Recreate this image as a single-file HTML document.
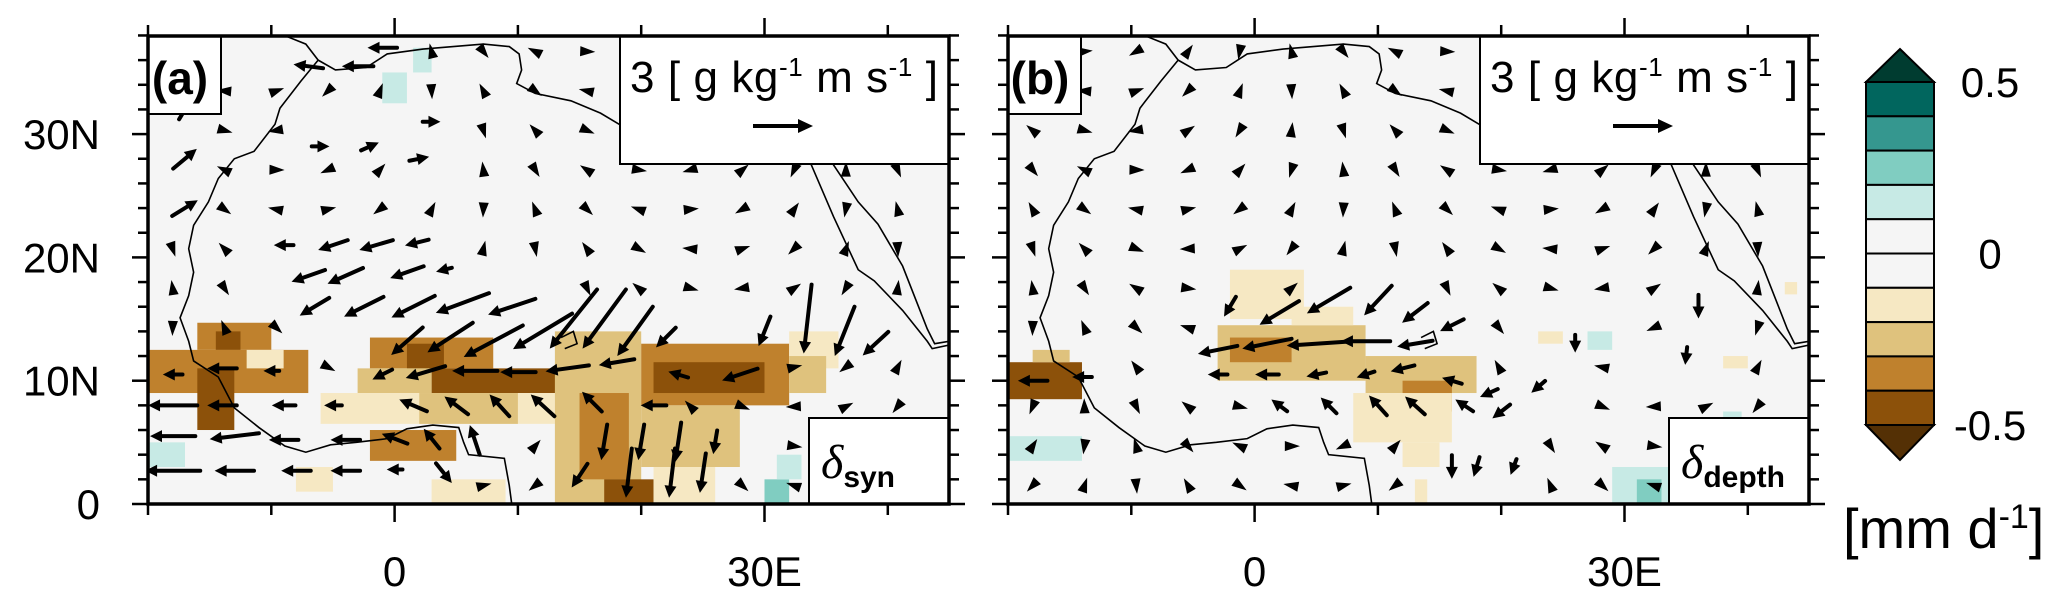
<!DOCTYPE html>
<html><head><meta charset="utf-8"><style>
html,body{margin:0;padding:0;background:#fff;}
svg{display:block;font-family:"Liberation Sans",sans-serif;}
</style></head><body>
<svg id="fig" width="2067" height="609" viewBox="0 0 2067 609" xmlns="http://www.w3.org/2000/svg">
<defs>
<clipPath id="clipA"><rect x="148" y="36" width="801" height="468"/></clipPath>
<clipPath id="clipB"><rect x="1008" y="36" width="801" height="468"/></clipPath>
</defs>
<g id="panelA"></g>
<g id="panelB"></g>
<g id="cbar"></g>
</svg>
<script>
// ---- data ----
const levelColors = {"-4":"#8c510a","-3":"#bf812d","-2":"#dfc27d","-1":"#f6e8c3","1":"#c7eae5","2":"#80cdc1","3":"#35978f","4":"#01665e"};
const cbarColors = ["#01665e","#35978f","#80cdc1","#c7eae5","#f5f5f5","#f5f5f5","#f6e8c3","#dfc27d","#bf812d","#8c510a"];
const cbarTickLabels = ["0.5","0","-0.5"];
const lonTicks = [-20,-10,0,10,20,30,40];
const lonLabels = {"0":"0","30":"30E"};
const latTicks = [0,10,20,30];
const latLabels = ["0","10N","20N","30N"];
// shading runs: [lat0, lat1, lon0, lon1, level]
const shadeA = [
[12.5,14.7,-16,-10,-3],[12.5,14,-14.5,-12.5,-4],[9,12.5,-20,-7,-3],[11,12.5,-12,-9,-1],
[6,11,-16,-13,-4],[11,13.5,-2,8,-3],[11,13,1,4,-4],[9,11,3,14,-4],[9,11,-3,3,-2],
[6.5,9,-6,13,-1],[6.5,9,2,10,-2],[3.5,6,-2,5,-3],[1,3,-8,-5,-1],[0,2,3,9,-1],
[0,14,13,20,-2],[2,9,15,19,-3],[0,2,17,21,-4],[8,13,20,32,-3],[9,11.5,21,30,-4],
[3,8,20,28,-2],[0,3,21,26,-1],[11,14,32,36,-1],[9,12,32,35,-2],
[0,2,30,32,2],[2,4,31,33,1],[3,5,-20,-17,1],[32.5,35,-1,1,1],[35,37,1.5,3,1]
];
const shadeB = [
[8.5,11.5,-20,-14,-4],[11.5,12.5,-18,-15,-2],[10,14.5,-3,9,-2],[11.5,13.5,-2,3,-3],
[15,19,-2,4,-1],[14.5,16,3,8,-1],[9,12,9,18,-2],[7.5,10,12,16,-3],[5,9,8,16,-1],
[3,5,12,15,-1],[0,2,13,14,-1],[3.5,5.5,-20,-14,1],[0,3,29,35,1],[0,2,31,33,2],
[12.5,14,27,29,1],[13,14,23,25,-1],[17,18,43,44,-1],[11,12,38,40,-1],[6,7.5,38,39.5,1]
];
// vectors: [lon, lat, u, v]
const vecA = [
[-9,21,-1.0,0],[-5,21,-1.5,-0.5],[-1.5,21,-1.7,-0.5],[1.8,21.2,-1.2,-0.3],
[-7,18.5,-1.7,-0.6],[-4,18.5,-1.8,-0.8],[1,18.8,-1.7,-0.6],[4,19,-0.8,-0.2],
[-6.5,16,-1.5,-0.9],[-2.5,16,-2,-1],[1.5,16,-2.2,-1.1],[5.5,16.3,-2.7,-1],[9.5,16,-2.4,-0.8],
[1,13.2,-1.6,-1.4],[4.5,13.5,-2.3,-1.5],[8,13.2,-3,-1.6],[12,14,-3,-1.8],[14.5,15,-2.4,-3],[17,15,-2.2,-3],[19.5,14,-1.8,-2.5],[22,13.5,-1,-1],
[-18,10.5,-1,0],[-14,11,-1.5,0],[-10,10.8,-0.8,0],[-1,10.5,-1,-0.5],[2.5,10.7,-2,-0.6],[6.5,10.8,-2.3,0],[10,10.7,-1.8,0],[14,11,-2.2,-0.3],[18,11.5,-1.8,-0.3],[23,10.5,-1,0.3],[28,10.5,-1.8,-0.6],
[-18,8,-2.5,0],[-14,8,-1.5,0],[-9,8,-1.2,0],[-5,8,-0.9,0],[1.5,8,-1.4,0.6],[5,8,-1.2,0.9],[8.5,8,-1,1.1],[12,8,-1.2,1.1],[16,8.3,-1,1],[21,8,-1.3,0],
[-18,5.5,-2.3,0],[-13,5.5,-2.5,-0.3],[-9,5.2,-1.5,0],[-4,5.2,-1.5,0],[0,5.3,-1.3,0.5],[3,5.3,-0.8,1],[6.5,5.2,-0.5,1.5],[17,5,-0.3,-1.8],[20,5,-0.3,-1.8],[23,5,-0.3,-2],[26,5,-0.2,-1.2],
[-18,2.7,-2.8,0],[-13,2.7,-2,0],[-8,2.7,-1.5,0],[-4,2.7,-1.5,0],[0,2.8,-0.8,0],[4,2.5,0.8,-1],[15,2.3,-0.8,-1.2],[19,2.5,-0.3,-2.5],[22.5,2.5,-0.3,-2.5],[25,2.5,-0.3,-2],
[33.5,15,-0.4,-3.5],[36.5,14,-1,-2.5],[39,13,-1.3,-1.2],[30,14,-0.6,-1.5],
[-17,24,1.3,0.8],[-17,28,1.2,1],[-6,29,0.9,0],[-2,29,0.9,0.4],[2,28,1.0,0.2],[3,31,0.9,0],[-17,32,0.6,1],
[-16,36,1.2,0.5],[-1,37,-1.5,0],[-3,35.5,-1.6,0],[-7,35.5,-1.5,0.2]
];
const vecB = [
[-18,10,-1.5,0],[-14,10.3,-1,0],[-3,12.5,-2,-0.4],[1,13,-2.5,-0.5],[5,13,-3,-0.2],[9,13.2,-2.5,0],[13,13,-1.8,-0.3],
[2,15.5,-2,-1.2],[6,16.5,-2.2,-1.3],[10,16.5,-1.4,-1.5],[13,15.5,-1.3,-1],[16,14.5,-1.2,-0.6],
[-3,10.5,-1,0],[1,10.5,-1.2,0],[5,10.5,-1,-0.2],[9,10.5,-0.9,-0.3],[12,11,-1.2,-0.3],[16,10,-1,0.3],[19,9,-0.9,-0.4],
[2,8,-0.8,0.6],[6,8,-0.8,0.8],[10,8,-0.9,1],[13,8,-1,0.9],[17,8,-0.9,0.6],[20,7.5,-0.9,-0.7],[23,9.5,-0.7,-0.6],
[16,3,0,-1.2],[18,3,-0.3,-1],[21,3,-0.3,-0.8],[-2,16,-0.6,-1],[26,13,0,-0.9],[36,16,0,-1.2],[35,12,-0.1,-0.9]
];
// coastlines: [lon, lat] pairs
const coastWest = [[-8.7,37.9],[-7.2,37.3],[-6.2,36.0],[-7.6,34.3],[-9.3,32.1],[-9.7,30.8],[-11.4,28.6],[-13.0,28.0],[-14.3,26.4],[-15.1,24.5],[-16.3,22.6],[-16.7,20.7],[-16.3,18.8],[-16.7,16.9],[-17.4,15.1],[-16.7,13.2],[-16.3,11.6],[-14.3,10.3],[-13.0,7.8],[-11.0,6.2],[-8.9,4.7],[-7.2,4.2],[-5.2,4.8],[-3.1,5.0],[-0.6,5.3],[1.0,6.1],[3.1,6.4],[5.2,6.2],[5.6,5.0],[6.0,4.0],[8.9,3.7],[9.3,1.5],[9.5,0]];
const coastNorth = [[-6.2,36.0],[-4.8,35.2],[-2.3,35.4],[-0.6,36.5],[2.3,36.9],[7.2,37.3],[9.3,37.1],[10.1,36.5],[10.3,35.2],[9.9,34.1],[11.4,33.3],[14.3,32.7],[16.7,31.7],[18.2,30.8],[20,31],[20,32.5],[25,31.7],[30,31.3],[32.3,31],[32.5,29.8],[33.8,27.5],[35.6,23.3],[37.6,19.0],[38.9,18.1],[41.2,15.7],[43.2,13.2],[43.6,12.6],[45,12.9]];
const coastArabia = [[34.5,29.5],[35.6,27.5],[37.6,24.5],[39.2,22.7],[41.2,19.3],[43.2,14.2],[43.8,13],[45,13.2]];
const lakeChad = [[13.5,13.5],[14.5,14],[14.8,13],[13.8,12.6]];

// ---- drawing ----
const NS="http://www.w3.org/2000/svg";
const DEG=12.33, Y0=504;
function mk(tag,attrs,parent){const e=document.createElementNS(NS,tag);for(const k in attrs)e.setAttribute(k,attrs[k]);parent.appendChild(e);return e;}
function drawPanel(g,x0,clip,shade,vecs,letter,sub,legendName){
  const X=lon=>x0+(lon+20)*DEG, Y=lat=>Y0-lat*DEG;
  const bg=mk('rect',{x:x0,y:36,width:801,height:468,fill:'#f5f5f5'},g);
  
  
  const cg=mk('g',{'clip-path':'url(#'+clip+')'},g);
  for(const s of shade){
    const r=mk('rect',{x:X(s[2]),y:Y(s[1]),width:(s[3]-s[2])*DEG,height:(s[1]-s[0])*DEG,fill:levelColors[String(s[4])]},cg);
    
    
  }
  for(const c of [coastWest,coastNorth,coastArabia,lakeChad]){
    const p=mk('polyline',{points:c.map(q=>X(q[0])+','+Y(q[1])).join(' '),fill:'none',stroke:'#000','stroke-width':1.6},cg);
    
    
  }
  // calm small vectors
  for(let lon=-18;lon<=44;lon+=4.2){for(let lat=1.5;lat<=37;lat+=3.2){
    let near=vecs.some(v=>Math.abs(v[0]-lon)<2.8&&Math.abs(v[1]-lat)<1.8);
    if(near)continue;
    const cx=X(lon),cy=Y(lat);
    const d=mk('path',{d:`M${cx-6},${cy-4} L${cx+6},${cy} L${cx-6},${cy+4} Z`,fill:'#000',stroke:'#000','stroke-width':1.5,transform:`rotate(${(lon*37+lat*53)%360} ${cx} ${cy})`},cg);
    
    
  }}
  for(const v of vecs){
    const L=19.7, dx=v[2]*L, dy=-v[3]*L;
    const cx=X(v[0]),cy=Y(v[1]);
    const x1=cx-dx/2,y1=cy-dy/2,x2=cx+dx/2,y2=cy+dy/2;
    const len=Math.hypot(dx,dy)||1, ux=dx/len, uy=dy/len, h=12, w=6;
    const ag=mk('g',{},cg);
    
    
    mk('line',{x1:x1,y1:y1,x2:x2-ux*h*0.7,y2:y2-uy*h*0.7,stroke:'#000','stroke-width':4,'stroke-linecap':'round'},ag);
    mk('path',{d:`M${x2},${y2} L${x2-ux*h-uy*w},${y2-uy*h+ux*w} L${x2-ux*h+uy*w},${y2-uy*h-ux*w} Z`,fill:'#000'},ag);
  }
  // label box
  const lb=mk('g',{},g);
  
  
  mk('rect',{x:x0,y:36,width:73,height:78,fill:'#fff',stroke:'#000','stroke-width':2},lb);
  const lt=mk('text',{x:x0+32,y:94,'font-size':46,'font-weight':'bold','text-anchor':'middle'},lb);lt.textContent=letter;
  // reference vector legend
  const rv=mk('g',{},g);
  
  
  mk('rect',{x:x0+472,y:36,width:329,height:128,fill:'#fff',stroke:'#000','stroke-width':2},rv);
  const t=mk('text',{x:x0+482,y:92,'font-size':44,textLength:308,lengthAdjust:'spacing'},rv);
  t.innerHTML='3 [ g kg<tspan dy="-16" font-size="26">-1</tspan><tspan dy="16"> m s</tspan><tspan dy="-16" font-size="26">-1</tspan><tspan dy="16"> ]</tspan>';
  mk('line',{x1:x0+605,y1:126,x2:x0+655,y2:126,stroke:'#000','stroke-width':4},rv);
  mk('path',{d:`M${x0+665},126 L${x0+650},119 L${x0+650},133 Z`,fill:'#000'},rv);
  // delta label box
  const db=mk('g',{},g);
  
  
  mk('rect',{x:x0+661,y:418,width:140,height:86,fill:'#fff',stroke:'#000','stroke-width':2},db);
  const dt=mk('text',{x:x0+673,y:478,'font-size':48,'font-family':'Liberation Serif, serif','font-style':'italic'},db);
  dt.innerHTML='δ<tspan dy="9" font-size="30" font-style="normal" font-weight="bold" font-family="Liberation Sans, sans-serif">'+sub+'</tspan>';
  // frame
  const fr=mk('rect',{x:x0,y:36,width:801,height:468,fill:'none',stroke:'#000','stroke-width':3.5},g);
  
  
  // ticks
  const tg=mk('g',{stroke:'#000','stroke-width':2.5},g);
  
  
  for(const lon of lonTicks){const major=lon%30===0;const x=X(lon);
    mk('line',{x1:x,y1:504,x2:x,y2:504+(major?18:11)},tg);
    mk('line',{x1:x,y1:36,x2:x,y2:36-(major?18:11)},tg);}
  for(let lat=0;lat<=38;lat+=2){const major=lat%10===0;const y=Y(lat);
    mk('line',{x1:x0,y1:y,x2:x0-(major?16:10),y2:y},tg);
    mk('line',{x1:x0+801,y1:y,x2:x0+801+(major?16:10),y2:y},tg);}
  for(const lon of lonTicks){if(lonLabels[String(lon)]!==undefined){
    const tx=mk('text',{x:X(lon),y:586,'font-size':42,'text-anchor':'middle'},g);
    
    
    tx.textContent=lonLabels[String(lon)];}}
  if(x0<500){latTicks.forEach((lat,i)=>{
    const ty=mk('text',{x:100,y:Y(lat)+15,'font-size':42,'text-anchor':'end'},g);
    
    
    ty.textContent=latLabels[i];});}
}
drawPanel(document.getElementById('panelA'),148,'clipA',shadeA,vecA,'(a)','syn','reference-vector-legend-a');
drawPanel(document.getElementById('panelB'),1008,'clipB',shadeB,vecB,'(b)','depth','reference-vector-legend-b');

// colorbar
const cb=document.getElementById('cbar');
const cx0=1866,cw=68,ctop=82,bh=34.3;
mk('path',{d:`M${cx0},${ctop} L${cx0+cw/2},49 L${cx0+cw},${ctop} Z`,fill:'#003c30',stroke:'#000','stroke-width':2},cb);
cbarColors.forEach((c,i)=>{
  const r=mk('rect',{x:cx0,y:ctop+i*bh,width:cw,height:bh,fill:c,stroke:'#000','stroke-width':2},cb);
  
  
});
const cbot=ctop+cbarColors.length*bh;
mk('path',{d:`M${cx0},${cbot} L${cx0+cw/2},460 L${cx0+cw},${cbot} Z`,fill:'#543005',stroke:'#000','stroke-width':2},cb);
const cpos=[ctop,ctop+5*bh,cbot];
cbarTickLabels.forEach((s,i)=>{
  const t=mk('text',{x:1990,y:cpos[i]+15,'font-size':42,'text-anchor':'middle'},cb);
  
  
  t.textContent=s;});
const ut=mk('text',{x:1843,y:548,'font-size':56},cb);


ut.innerHTML='[mm d<tspan dy="-20" font-size="34">-1</tspan><tspan dy="20">]</tspan>';
</script>
</body></html>
